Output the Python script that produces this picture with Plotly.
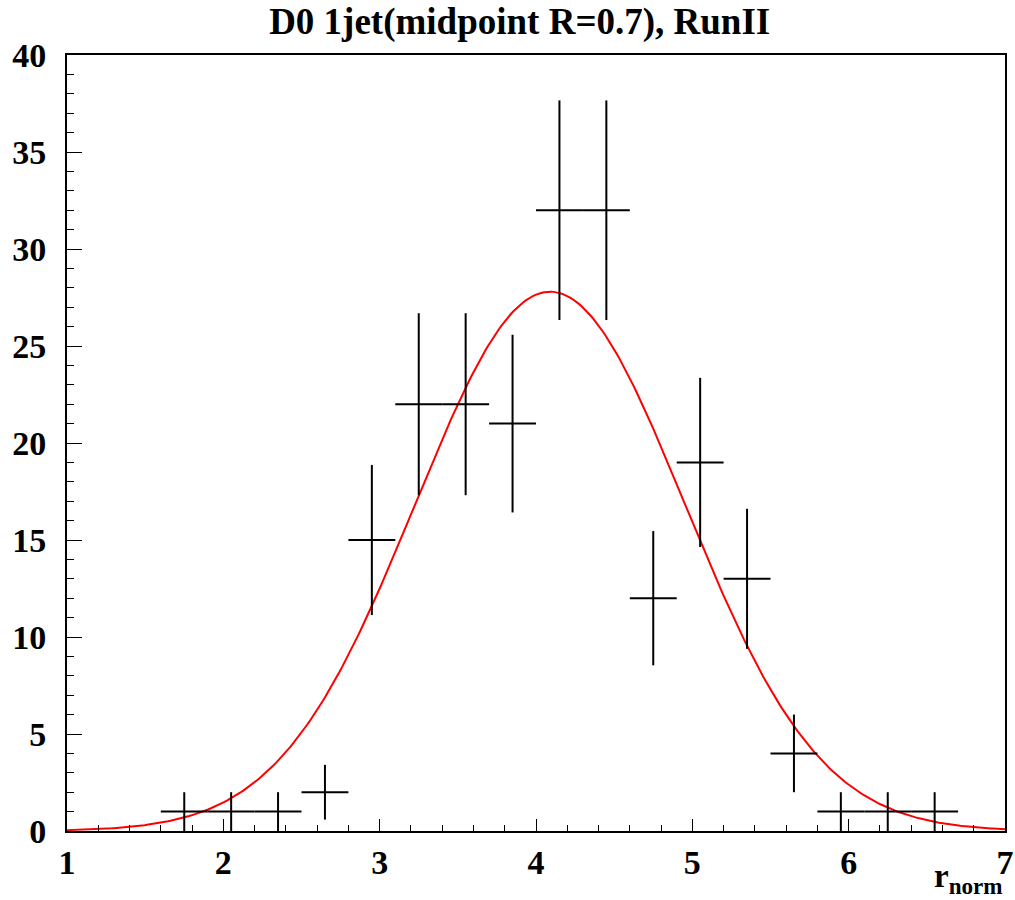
import numpy as np
import plotly.graph_objects as go

# histogram bin centres, counts and their errors
bin_centers = [1.75, 2.05, 2.35, 2.65, 2.95, 3.25, 3.55, 3.85, 4.15, 4.45,
               4.75, 5.05, 5.35, 5.65, 5.95, 6.25, 6.55]
counts = [1, 1, 1, 2, 15, 22, 22, 21, 32, 32, 12, 19, 13, 4, 1, 1, 1]
count_errors = [1.0, 1.0, 1.0, 1.41, 3.87, 4.69, 4.69, 4.58, 5.66, 5.66,
                3.46, 4.36, 3.61, 2.0, 1.0, 1.0, 1.0]
bin_half_widths = [0.15] * len(bin_centers)

# gaussian fit parameters
fit_amplitude = 27.8
fit_mean = 4.09
fit_sigma = 0.862
fit_range = (1.0, 7.0)

title_text = "D0 1jet(midpoint R=0.7), RunII"
x_tick_values = [1, 2, 3, 4, 5, 6, 7]
y_tick_values = [0, 5, 10, 15, 20, 25, 30, 35, 40]

fx = np.linspace(fit_range[0], fit_range[1], 400)
fy = fit_amplitude * np.exp(-0.5 * ((fx - fit_mean) / fit_sigma) ** 2)

fig = go.Figure()
fig.add_trace(go.Scatter(
    x=fx, y=fy, mode="lines", line=dict(color="#ff0000", width=2),
    hoverinfo="skip", showlegend=False))
fig.add_trace(go.Scatter(
    x=bin_centers, y=counts, mode="markers",
    marker=dict(size=1, color="black", opacity=0),
    error_x=dict(type="data", array=bin_half_widths, symmetric=True,
                 color="black", thickness=2, width=0),
    error_y=dict(type="data", array=count_errors, symmetric=True,
                 color="black", thickness=2, width=0),
    showlegend=False))

tickfont = dict(family="Liberation Serif", size=34, color="black", weight="bold")

fig.update_xaxes(
    range=[1, 7], tickvals=x_tick_values, ticks="inside", ticklen=12,
    tickwidth=1, tickcolor="black", showgrid=False, zeroline=False,
    showline=True, linecolor="black", linewidth=2, mirror=True,
    tickfont=tickfont,
    minor=dict(ticks="inside", dtick=0.2, ticklen=6, tickcolor="black",
               tickwidth=1, showgrid=False))
fig.update_yaxes(
    range=[0, 40], tickvals=y_tick_values, ticks="inside", ticklen=15,
    tickwidth=1, tickcolor="black", showgrid=False, zeroline=False,
    showline=True, linecolor="black", linewidth=2, mirror=True,
    tickfont=tickfont, ticklabelstandoff=12,
    minor=dict(ticks="inside", dtick=1, ticklen=7, tickcolor="black",
               tickwidth=1, showgrid=False))

fig.update_layout(
    width=1015, height=900,
    margin=dict(l=67, r=10, t=55, b=69, autoexpand=False),
    plot_bgcolor="white", paper_bgcolor="white",
    title=dict(text="<b>" + title_text + "</b>", x=0.512, xanchor="center",
               xref="container", y=0.977, yanchor="middle",
               font=dict(family="Liberation Serif", size=37, color="black")),
    annotations=[dict(
        text="<b>r<sub>norm</sub></b>", xref="paper", yref="paper",
        x=1.0, y=-0.09, xanchor="right", yanchor="bottom", showarrow=False,
        font=dict(family="Liberation Serif", size=33, color="black"))],
)

fig.write_html(
    "out.html",
    config={"displayModeBar": False},
    post_script="document.body.style.margin='0';document.body.style.overflow='hidden';")
